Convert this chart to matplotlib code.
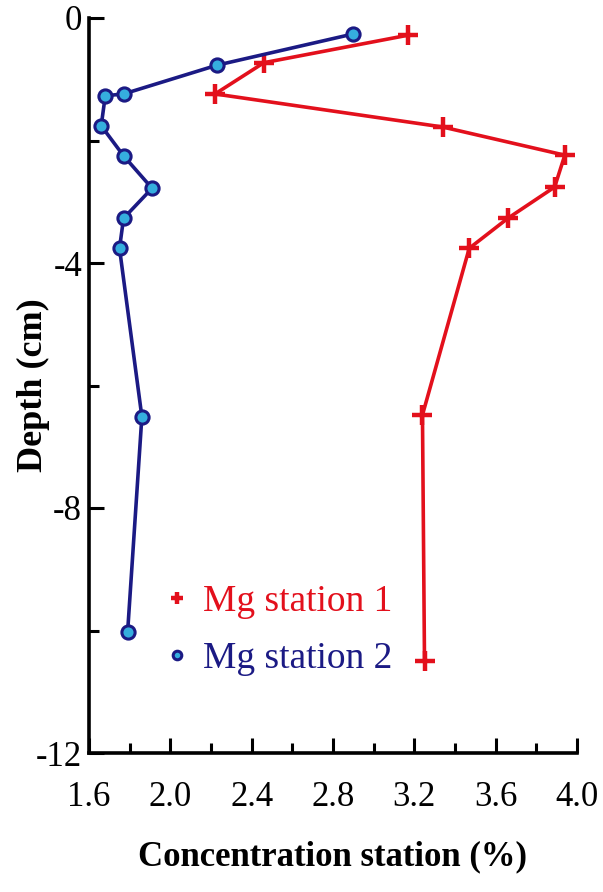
import numpy as np
import matplotlib
matplotlib.use("Agg")
from matplotlib import pyplot as plt
from matplotlib.ticker import MultipleLocator

# Mg concentration (%) against depth (cm) at two stations
depth_st1 = [-0.28, -0.73, -1.24, -1.78, -2.24, -2.76, -3.27, -3.76, -6.48, -10.50]
mg_st1    = [3.17, 2.46, 2.22, 3.34, 3.94, 3.89, 3.66, 3.47, 3.24, 3.25]

depth_st2 = [-0.26, -0.77, -1.24, -1.27, -1.76, -2.25, -2.78, -3.27, -3.76, -6.51, -10.02]
mg_st2    = [2.90, 2.23, 1.77, 1.68, 1.66, 1.77, 1.91, 1.77, 1.75, 1.86, 1.79]

labels = ["Mg station 1", "Mg station 2"]

red   = '#e3101c'
navy  = '#1b1a84'
cyan  = '#35aede'

plt.rcParams.update({
    'font.family'    : ['Liberation Serif', 'DejaVu Serif'],
    'axes.linewidth' : 2.6,
})

fig = plt.figure(figsize=(6.03, 8.92), dpi=100)
ax = fig.add_axes([89/603, 1 - 753/892, (577 - 89)/603, (753 - 18)/892])

ax.plot(mg_st1, depth_st1, color=red, lw=2.6, marker='+', ms=14, mew=3.2,
        label=labels[0], zorder=3)
ax.plot(mg_st2, depth_st2, color=navy, lw=2.6, marker='o', ms=9.5, mew=2.2,
        mfc=cyan, mec=navy, label=labels[1], zorder=4)

ax.set_xlim(1.6, 4.0)
ax.set_ylim(-12, 0)
ax.xaxis.set_major_locator(MultipleLocator(0.4))
ax.xaxis.set_minor_locator(MultipleLocator(0.2))
ax.yaxis.set_major_locator(MultipleLocator(4))
ax.yaxis.set_minor_locator(MultipleLocator(2))
ax.xaxis.set_major_formatter(matplotlib.ticker.FormatStrFormatter('%.1f'))
ax.yaxis.set_major_formatter(matplotlib.ticker.FormatStrFormatter('%d'))

for side in ['top', 'right']:
    ax.spines[side].set_visible(False)

ax.tick_params(which='both', direction='in', width=2.2, labelsize=25)
ax.tick_params(which='major', length=11)
ax.tick_params(which='minor', length=7)
ax.tick_params(axis='x', which='major', pad=20)
ax.tick_params(axis='y', which='major', pad=5)

ax.set_xlabel("Concentration station (%)", fontsize=25, fontweight='bold', labelpad=19)
ax.set_ylabel("Depth (cm)", fontsize=26, fontweight='bold')
ax.yaxis.set_label_coords(-0.08, 0.5)

leg = ax.legend(loc='upper left', bbox_to_anchor=(0.13, 0.25), frameon=False,
                fontsize=27, handlelength=0.5, handletextpad=0.45,
                labelspacing=0.62, markerscale=0.65, borderaxespad=0)
for text, col in zip(leg.get_texts(), [red, navy]):
    text.set_color(col)
for line in leg.get_lines():
    line.set_linestyle('none')

plt.savefig("out.png", dpi=100, facecolor='w')
